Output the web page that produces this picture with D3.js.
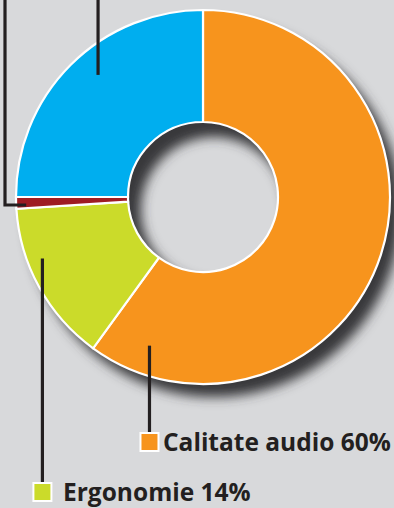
<!DOCTYPE html>
<html>
<head>
<meta charset="utf-8">
<script src="https://cdn.jsdelivr.net/npm/d3@7"></script>
<style>
  html, body { margin: 0; padding: 0; background: #d8d9db; }
  svg { display: block; }
</style>
</head>
<body>
<div id="chart"></div>
<script>
// data
var categories = ["Calitate audio", "Ergonomie", "Altele", "Design"];
var values = [60, 14, 1, 25];
var colors = ["#f7941d", "#cbdb2a", "#9e1c22", "#00aeef"];
var labels = ["Calitate audio 60%", "Ergonomie 14%", "", ""];

var w = 394,
    h = 508,
    cx = 203,
    cy = 197,
    rOuter = 187,
    rInner = 75;

var svg = d3.select("#chart")
  .append("svg")
  .attr("width", w)
  .attr("height", h);

svg.append("rect")
  .attr("width", w)
  .attr("height", h)
  .attr("fill", "#d8d9db");

var defs = svg.append("defs");
defs.append("filter")
  .attr("id", "blur")
  .attr("x", "-20%").attr("y", "-20%")
  .attr("width", "140%").attr("height", "140%")
  .append("feGaussianBlur")
  .attr("stdDeviation", 6);

var pie = d3.pie().sort(null).value(function(d){ return d; });
var arcs = pie(values);

var arc = d3.arc()
  .innerRadius(rInner)
  .outerRadius(rOuter);

var g = svg.append("g")
  .attr("transform", "translate(" + cx + "," + cy + ")");

// shadow ring (falls outside bottom-right and inside the hole top-left)
g.append("path")
  .attr("d", d3.arc().innerRadius(rInner - 2).outerRadius(rOuter)({startAngle: 0, endAngle: 2 * Math.PI}))
  .attr("transform", "translate(11,13)")
  .attr("fill", "#38383b")
  .attr("filter", "url(#blur)");

g.selectAll("path.slice")
  .data(arcs)
  .enter()
  .append("path")
  .attr("class", "slice")
  .attr("d", arc)
  .attr("fill", function(d, i){ return colors[i]; })
  .attr("stroke", "#fff")
  .attr("stroke-width", 2.2);

// leader lines: where they start inside each slice (fraction of angle, radius)
var anchorFrac = [0.925, 0.655, 0.28, 0.548];
var anchorR = [158, 172, 177, 161];

function anchor(i) {
  var a = arcs[i].startAngle + (arcs[i].endAngle - arcs[i].startAngle) * anchorFrac[i];
  var p = d3.pointRadial(a, anchorR[i]);
  return [p[0] + cx, p[1] + cy];
}

var legendY = [442, 492];   // middle of legend square
var textX = [163, 63];

var line = d3.line();
var leaders = [];
[0, 1].forEach(function(i){
  var p = anchor(i);
  leaders.push([p, [p[0], legendY[i] - 10]]);
});
var pr = anchor(2);
leaders.push([pr, [5, pr[1]], [5, -5]]);
var pb = anchor(3);
leaders.push([pb, [pb[0], -5]]);

svg.selectAll("path.leader")
  .data(leaders)
  .enter()
  .append("path")
  .attr("class", "leader")
  .attr("d", line)
  .attr("fill", "none")
  .attr("stroke", "#231f20")
  .attr("stroke-width", 3.2);

[0, 1].forEach(function(i){
  var p = anchor(i);
  svg.append("rect")
    .attr("x", p[0] - 9)
    .attr("y", legendY[i] - 9)
    .attr("width", 18)
    .attr("height", 18)
    .attr("fill", colors[i])
    .attr("stroke", "#fff")
    .attr("stroke-width", 2);
  svg.append("text")
    .attr("x", textX[i])
    .attr("y", legendY[i] + 9)
    .attr("font-family", "'Open Sans', sans-serif")
    .attr("font-weight", 700)
    .attr("font-size", 24.5)
    .attr("fill", "#231f20")
    .text(labels[i]);
});
</script>
</body>
</html>
